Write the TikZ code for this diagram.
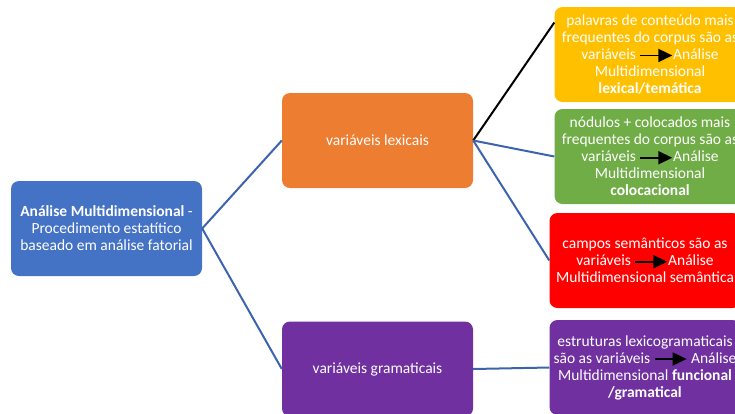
\documentclass[tikz,border=0pt]{standalone}
\usepackage{fontspec}
\setmainfont{Carlito}
\usetikzlibrary{arrows.meta}
\definecolor{mdblue}{HTML}{4472C4}
\definecolor{mdorange}{HTML}{ED7D31}
\definecolor{mdpurple}{HTML}{7030A0}
\definecolor{mdyellow}{HTML}{FFC000}
\definecolor{mdgreen}{HTML}{70AD47}
\definecolor{mdred}{HTML}{FF0000}
\definecolor{mdline}{HTML}{3C64AE}
\newcommand{\mdseta}{\tikz[baseline=-0.55ex]\draw[black,line width=1.8pt,
  -{Triangle[length=14pt,width=13pt]}] (0pt,0pt) -- (32pt,0pt);}

\begin{document}
\begin{tikzpicture}[x=1pt,y=-1pt,
  font=\fontsize{15.5}{17}\selectfont,
  card/.style={rounded corners=8pt,text=white,minimum width=191pt,
               minimum height=95pt,align=center,inner sep=2pt},
  link/.style={line width=2pt,mdline}]
\useasboundingbox (0,0) rectangle (735,413);
\clip (0,0) rectangle (735,413);

% ---- root and the two kinds of variables ----
\node[card,fill=mdblue] (amroot) at (106.5,228.5)
  {\textbf{Análise Multidimensional} -\\Procedimento estatítico\\baseado em análise fatorial};
\node[card,fill=mdorange] (amlex) at (377.5,140.5) {variáveis lexicais};
\node[card,fill=mdpurple] (amgram) at (377.5,369) {variáveis gramaticais};

% ---- resulting analyses (right column, cut by the page edge) ----
\node[card,fill=mdyellow] (amtema) at (650,54.5)
  {palavras de conteúdo mais\\frequentes do corpus são as\\variáveis \mdseta Análise\\Multidimensional\\\textbf{lexical/temática}};
\node[card,fill=mdgreen] (amcoloc) at (650,156.5)
  {nódulos + colocados mais\\frequentes do corpus são as\\variáveis \mdseta Análise\\Multidimensional\\\textbf{colocacional}};
\node[card,fill=mdred] (amsem) at (645,260.5)
  {campos semânticos são as\\variáveis \mdseta Análise\\Multidimensional semântica};
\node[card,fill=mdpurple] (amfunc) at (645,367.5)
  {estruturas lexicogramaticais\\são as variáveis \mdseta\ Análise\\Multidimensional \textbf{funcional}\\\textbf{/gramatical}};

% ---- links ----
\draw[link] (amroot.east) -- (amlex.west);
\draw[link] (amroot.east) -- (amgram.west);
\draw[link,black] (amlex.east) -- ([yshift=32pt]amtema.west);
\draw[link] (amlex.east) -- (amcoloc.west);
\draw[link] (amlex.east) -- (amsem.west);
\draw[link] (amgram.east) -- (amfunc.west);
\end{tikzpicture}
\end{document}
